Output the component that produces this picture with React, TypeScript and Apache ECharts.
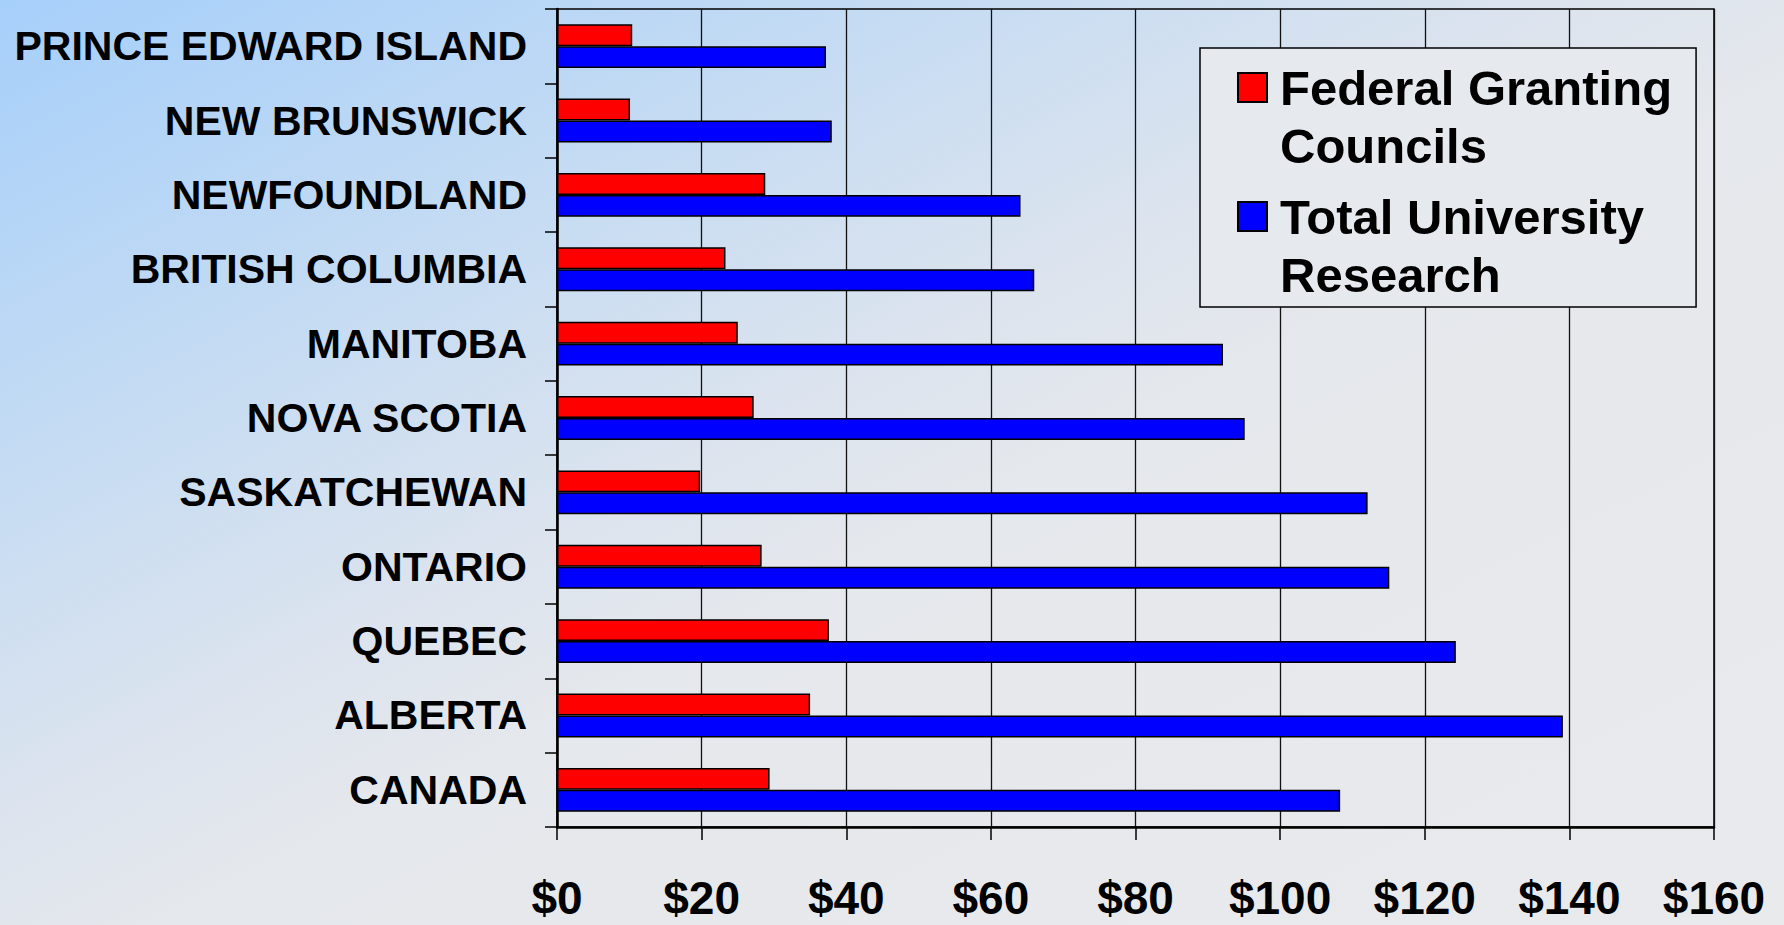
import React, { useEffect, useRef } from "react";
import * as echarts from "echarts";

const provinces = [
  "PRINCE EDWARD ISLAND",
  "NEW BRUNSWICK",
  "NEWFOUNDLAND",
  "BRITISH COLUMBIA",
  "MANITOBA",
  "NOVA SCOTIA",
  "SASKATCHEWAN",
  "ONTARIO",
  "QUEBEC",
  "ALBERTA",
  "CANADA",
];
const federalGranting = [10.4, 10.1, 28.8, 23.3, 25.0, 27.2, 19.8, 28.3, 37.6, 35.0, 29.4];
const totalResearch = [37.2, 38.0, 64.1, 66.0, 92.1, 95.1, 112.1, 115.1, 124.3, 139.1, 108.3];
const xMin = 0;
const xMax = 160;
const xStep = 20;
const seriesNames = ["Federal Granting Councils", "Total University Research"];
const legendLines = ["Federal Granting\nCouncils", "Total University\nResearch"];
const seriesColors = ["#ff0000", "#0000ff"];

const FONT = "'Liberation Sans', Arial, Helvetica, sans-serif";

export default function App() {
  const ref = useRef<HTMLDivElement>(null);
  useEffect(() => {
    document.body.style.margin = "0";
    if (!ref.current) return;
    const chart = echarts.init(ref.current, null, { renderer: "svg" });
    const values = [federalGranting, totalResearch];
    chart.setOption({
      animation: false,
      backgroundColor: {
        type: "linear",
        x: 0,
        y: 0,
        x2: 1,
        y2: 1,
        colorStops: [
          { offset: 0, color: "#a6cffa" },
          { offset: 0.25, color: "#c4dbf3" },
          { offset: 0.45, color: "#dde4ee" },
          { offset: 0.55, color: "#e5e8ec" },
          { offset: 1, color: "#e9eaec" },
        ],
      },
      grid: {
        left: 557,
        right: 70,
        top: 9,
        bottom: 98,
        show: true,
        borderColor: "#000",
        borderWidth: 1.5,
        backgroundColor: "transparent",
      },
      legend: {
        left: 1200,
        top: 48,
        orient: "vertical",
        data: seriesNames,
        icon: "path://M0,0Z M0,14.5h29v29h-29Z M0,116Z",
        itemWidth: 29,
        itemHeight: 116,
        itemGap: 11,
        padding: [9.5, 24, 2.5, 37],
        backgroundColor: "#e6e9ee",
        borderColor: "#000",
        borderWidth: 1.5,
        borderRadius: 0,
        formatter: (name: string) => legendLines[seriesNames.indexOf(name)],
        textStyle: {
          fontFamily: FONT,
          fontSize: 49,
          fontWeight: "bold",
          color: "#000",
          lineHeight: 58,
          padding: [0, 0, 0, 8],
        },
        selectedMode: false,
      },
      xAxis: {
        type: "value",
        min: xMin,
        max: xMax,
        interval: xStep,
        axisLine: { show: true, lineStyle: { color: "#000", width: 2.5 } },
        axisTick: { show: true, length: 13, lineStyle: { color: "#000", width: 1.5 } },
        splitLine: { show: true, lineStyle: { color: "#111", width: 1.3 } },
        axisLabel: {
          formatter: (v: number) => "$" + v,
          fontFamily: FONT,
          fontSize: 46,
          fontWeight: "bold",
          color: "#000",
          lineHeight: 40,
          margin: 51,
        },
      },
      yAxis: {
        type: "category",
        inverse: true,
        data: provinces,
        axisLine: { show: true, lineStyle: { color: "#000", width: 2.5 } },
        axisTick: { show: true, length: 12, lineStyle: { color: "#000", width: 1.5 } },
        splitLine: { show: false },
        axisLabel: {
          fontFamily: FONT,
          fontSize: 41,
          fontWeight: "bold",
          color: "#000",
          margin: 30,
        },
      },
      series: seriesNames.map((name, i) => ({
        name,
        type: "bar",
        data: values[i],
        barGap: "0%",
        barCategoryGap: "41%",
        itemStyle: { color: seriesColors[i], borderColor: "#000", borderWidth: 1.5 },
      })),
    });
    return () => chart.dispose();
  }, []);
  return <div ref={ref} style={{ width: 1784, height: 925 }} />;
}
